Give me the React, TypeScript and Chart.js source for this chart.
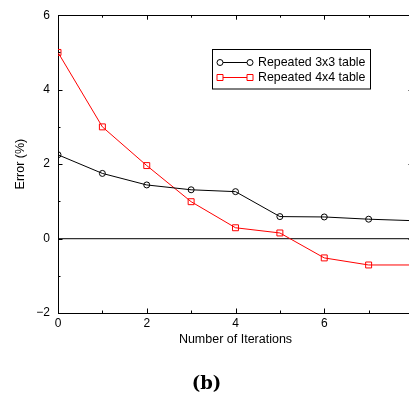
import React, { useEffect, useRef } from "react";
import { Chart, registerables } from "chart.js";

Chart.register(...registerables);

const iterations = [0, 1, 2, 3, 4, 5, 6, 7, 8];
const err3x3 = [2.25, 1.75, 1.44, 1.31, 1.26, 0.59, 0.58, 0.52, 0.48];
const err4x4 = [5.0, 3.0, 1.96, 0.99, 0.29, 0.15, -0.52, -0.71, -0.71];
const seriesLabels = ["Repeated 3x3 table", "Repeated 4x4 table"];
const seriesColors = ["#000000", "#ff0000"];
const xTitle = "Number of Iterations";
const yTitle = "Error (%)";
const caption = "(b)";

const W = 532;
const H = 396;
const SANS = "'Liberation Sans', Arial, Helvetica, sans-serif";

const framePlugin = {
  id: "frame",
  afterDatasetsDraw(chart: any) {
    const { ctx, chartArea } = chart;
    const xs = chart.scales.x;
    const ys = chart.scales.y;
    const { left, right, top, bottom } = chartArea;
    ctx.save();
    ctx.strokeStyle = "#000";
    ctx.lineWidth = 1;
    // top and right border
    ctx.beginPath();
    ctx.moveTo(Math.round(left) + 0.5, Math.round(top) + 0.5);
    ctx.lineTo(Math.round(right) + 0.5, Math.round(top) + 0.5);
    ctx.lineTo(Math.round(right) + 0.5, Math.round(bottom) + 0.5);
    ctx.stroke();
    // inward ticks
    ctx.beginPath();
    for (let v = xs.min; v <= xs.max; v += 1) {
      const px = Math.round(xs.getPixelForValue(v)) + 0.5;
      const len = v % 2 === 0 ? 4.5 : 2.5;
      ctx.moveTo(px, bottom);
      ctx.lineTo(px, bottom - len);
      ctx.moveTo(px, top);
      ctx.lineTo(px, top + len);
    }
    for (let v = ys.min; v <= ys.max; v += 1) {
      const py = Math.round(ys.getPixelForValue(v)) + 0.5;
      const len = Math.abs(v) % 2 === 0 ? 4.5 : 2.5;
      ctx.moveTo(left, py);
      ctx.lineTo(left + len, py);
      ctx.moveTo(right, py);
      ctx.lineTo(right - len, py);
    }
    ctx.stroke();

    // legend
    const bx = 212.5, by = 49.5, bw = 158, bh = 39.5;
    ctx.strokeStyle = "#000";
    ctx.strokeRect(bx, by, bw, bh);
    const rows = [62.5, 77.5];
    chart.data.datasets.forEach((ds: any, i: number) => {
      const y = rows[i];
      const x1 = 220, x2 = 250;
      ctx.strokeStyle = ds.borderColor;
      ctx.lineWidth = 1;
      ctx.beginPath();
      ctx.moveTo(x1, y);
      ctx.lineTo(x2, y);
      ctx.stroke();
      [x1, x2].forEach((x) => {
        ctx.beginPath();
        if (ds.pointStyle === "rect") {
          ctx.rect(x - 3, y - 3, 6, 6);
        } else {
          ctx.arc(x, y, 3, 0, Math.PI * 2);
        }
        ctx.fillStyle = "#fff";
        ctx.fill();
        ctx.stroke();
      });
      ctx.fillStyle = "#000";
      ctx.font = `12.4px ${SANS}`;
      ctx.textAlign = "left";
      ctx.textBaseline = "middle";
      ctx.fillText(ds.label, 258, y);
    });
    ctx.restore();
  },
};

export default function App() {
  const ref = useRef<HTMLCanvasElement>(null);
  useEffect(() => {
    if (!ref.current) return;
    const chart = new Chart(ref.current, {
      type: "line",
      data: {
        datasets: [
          {
            label: seriesLabels[0],
            data: iterations.map((x, i) => ({ x, y: err3x3[i] })),
            borderColor: seriesColors[0],
            backgroundColor: "rgba(0,0,0,0)",
            borderWidth: 1,
            pointStyle: "circle",
            pointRadius: 3,
            pointBorderWidth: 1,
            pointBackgroundColor: "rgba(0,0,0,0)",
            pointBorderColor: seriesColors[0],
            tension: 0,
          },
          {
            label: seriesLabels[1],
            data: iterations.map((x, i) => ({ x, y: err4x4[i] })),
            borderColor: seriesColors[1],
            backgroundColor: "rgba(0,0,0,0)",
            borderWidth: 1,
            pointStyle: "rect",
            pointRadius: 4.2,
            pointBorderWidth: 1,
            pointBackgroundColor: "rgba(0,0,0,0)",
            pointBorderColor: seriesColors[1],
            tension: 0,
          },
        ],
      },
      options: {
        animation: false,
        responsive: false,
        devicePixelRatio: 1,
        layout: { padding: { top: 15, right: W - 413, bottom: 0, left: 0 } },
        plugins: {
          legend: { display: false },
          tooltip: { enabled: false },
          title: {
            display: true,
            position: "bottom",
            text: caption,
            color: "#000",
            font: { family: "'DejaVu Serif', 'Liberation Serif', serif", size: 18, weight: "bold" },
            padding: { top: 23.2, bottom: 1.2 },
          },
        },
        scales: {
          x: {
            type: "linear",
            min: 0,
            max: 8,
            afterFit: (s: any) => {
              s.height = 37;
            },
            ticks: {
              stepSize: 2,
              color: "#000",
              padding: 3.5,
              font: { family: SANS, size: 12 },
              maxRotation: 0,
            },
            grid: { display: false, drawTicks: false },
            border: { display: true, color: "#000", width: 1 },
            title: {
              display: true,
              text: xTitle,
              color: "#000",
              font: { family: SANS, size: 12.5 },
              padding: { top: 0, bottom: 2.5 },
            },
          },
          y: {
            type: "linear",
            min: -2,
            max: 6,
            afterFit: (s: any) => {
              s.width = 58;
            },
            ticks: {
              stepSize: 2,
              color: "#000",
              padding: 8,
              font: { family: SANS, size: 12 },
              callback: (v: any) => (v < 0 ? "\u2212" + Math.abs(v) : String(v)),
            },
            grid: {
              drawTicks: false,
              lineWidth: 1.2,
              color: (c: any) => (c.tick && c.tick.value === 0 ? "#333" : "rgba(0,0,0,0)"),
            },
            border: { display: true, color: "#000", width: 1 },
            title: {
              display: true,
              text: yTitle,
              color: "#000",
              font: { family: SANS, size: 12.5 },
              padding: { top: 13.5, bottom: 0 },
            },
          },
        },
      },
      plugins: [framePlugin],
    } as any);
    return () => chart.destroy();
  }, []);
  return (
    <div style={{ position: "absolute", left: 0, top: 0, width: 409, height: 396, overflow: "hidden", background: "#fff" }}>
      <canvas ref={ref} width={W} height={H} style={{ display: "block", width: W, height: H }} />
    </div>
  );
}
